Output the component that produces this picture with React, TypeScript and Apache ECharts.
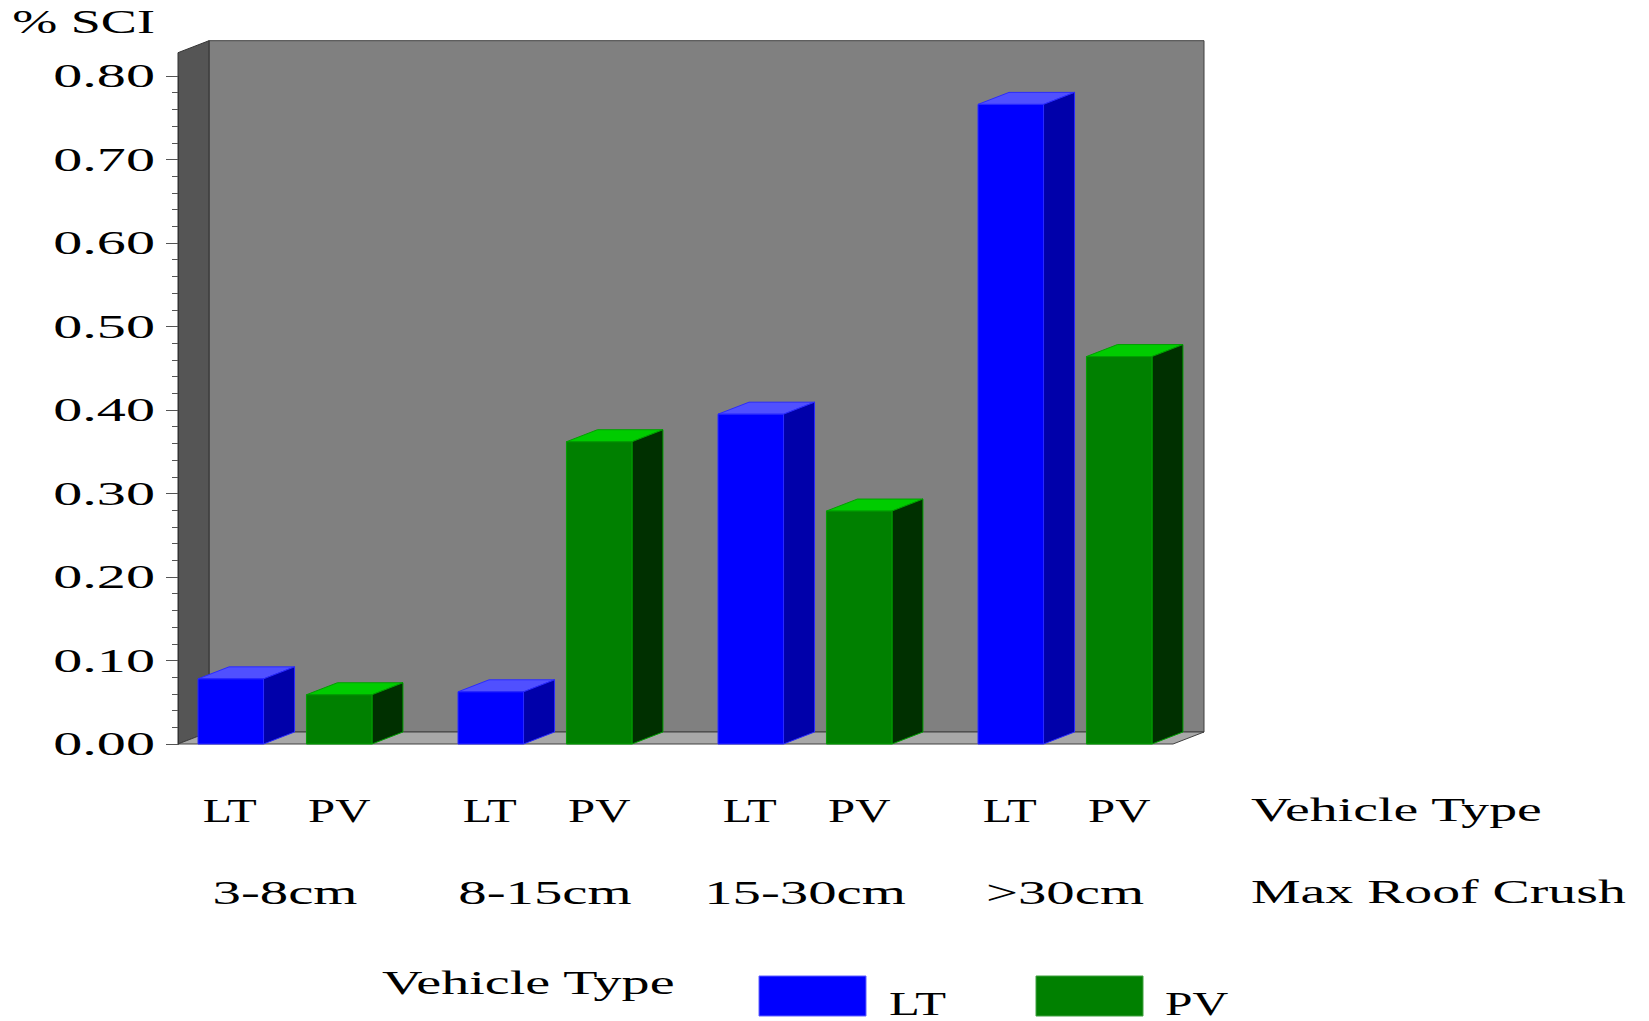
import React, { useEffect, useRef } from "react";
import * as echarts from "echarts";

// ---- data ----
const categories = ["3-8cm", "8-15cm", "15-30cm", ">30cm"];
const seriesNames = ["LT", "PV"];
const ltValues = [0.078, 0.0625, 0.395, 0.766];
const pvValues = [0.059, 0.362, 0.279, 0.464];
const yTickValues = [0, 0.1, 0.2, 0.3, 0.4, 0.5, 0.6, 0.7, 0.8];
const yTickLabels = ["0.00", "0.10", "0.20", "0.30", "0.40", "0.50", "0.60", "0.70", "0.80"];
const yAxisTitle = "% SCI";
const rowTitles = ["Vehicle Type", "Max Roof Crush"];
const legendTitle = "Vehicle Type";

// ---- styling ----
const FONT = '"Liberation Serif", "Times New Roman", serif';
const DX = 31;
const DY = -12;
const BAR_W = 0.252; // fraction of band
const OFFSETS = [-0.423, -0.006]; // bar front-left offset from band centre, fraction of band
const GRID = { left: 178, right: 431, top: 76, bottom: 277 };
const PLOT_RIGHT = 1173;
const WALL_TOP = 52.7;

const COLORS = [
  { front: "#0000ff", top: "#5050ff", side: "#0000aa", edge: "#2a2aff" },
  { front: "#008000", top: "#00cc00", side: "#003000", edge: "#00a000" },
];

function makeRender(idx: number) {
  return (params: any, api: any) => {
    const cat = api.value(0);
    const v = api.value(1);
    const base = api.coord([cat, 0]);
    const top = api.coord([cat, v]);
    const band = api.size([1, 0])[0];
    const x0 = base[0] + OFFSETS[idx] * band;
    const w = BAR_W * band;
    const x1 = x0 + w;
    const y0 = base[1];
    const y1 = top[1];
    const c = COLORS[idx];
    return {
      type: "group",
      children: [
        {
          type: "polygon",
          shape: { points: [[x0, y1], [x1, y1], [x1 + DX, y1 + DY], [x0 + DX, y1 + DY]] },
          style: { fill: c.top, stroke: c.edge, lineWidth: 1 },
        },
        {
          type: "polygon",
          shape: { points: [[x1, y0], [x1 + DX, y0 + DY], [x1 + DX, y1 + DY], [x1, y1]] },
          style: { fill: c.side, stroke: c.edge, lineWidth: 1 },
        },
        {
          type: "rect",
          shape: { x: x0, y: y1, width: w, height: y0 - y1 },
          style: { fill: c.front, stroke: c.edge, lineWidth: 1 },
        },
      ],
    };
  };
}

function txt(text: string, x: number, y: number, size: number, sx: number, align: string, z = 10) {
  return {
    type: "text",
    x,
    y,
    scaleX: sx,
    z,
    silent: true,
    style: {
      text,
      font: `${size}px ${FONT}`,
      fill: "#000",
      align,
      textAlign: align,
      verticalAlign: "middle",
      textVerticalAlign: "middle",
    },
  };
}

export default function App() {
  const ref = useRef<HTMLDivElement>(null);
  useEffect(() => {
    if (!ref.current) return;
    const chart = echarts.init(ref.current, undefined, { renderer: "svg" });
    const baseOption: any = {
      animation: false,
      backgroundColor: "#ffffff",
      grid: { ...GRID, containLabel: false },
      xAxis: {
        type: "category",
        data: categories,
        show: false,
      },
      yAxis: {
        type: "value",
        min: 0,
        max: 0.8,
        interval: 0.1,
        axisLine: { show: true, lineStyle: { color: "#333", width: 1 } },
        axisTick: { show: true, length: 12, lineStyle: { color: "#555" } },
        minorTick: { show: true, splitNumber: 5, length: 6, lineStyle: { color: "#555" } },
        splitLine: { show: false },
        axisLabel: { show: false },
      },
      series: [
        {
          name: seriesNames[0],
          type: "custom",
          z: 5,
          renderItem: makeRender(0),
          data: ltValues.map((v, i) => [i, v]),
        },
        {
          name: seriesNames[1],
          type: "custom",
          z: 5,
          renderItem: makeRender(1),
          data: pvValues.map((v, i) => [i, v]),
        },
      ],
    };
    chart.setOption(baseOption);

    const toPx = (c: number, v: number) => chart.convertToPixel({ gridIndex: 0 }, [c, v]) as number[];
    const p00 = toPx(0, 0);
    const p10 = toPx(1, 0);
    const band = p10[0] - p00[0];
    const y0 = p00[1];
    const left = GRID.left;

    const graphics: any[] = [];
    // walls
    graphics.push({
      type: "rect",
      z: 0,
      shape: { x: left + DX, y: WALL_TOP + DY, width: PLOT_RIGHT - left, height: y0 - WALL_TOP },
      style: { fill: "#808080", stroke: "#404040", lineWidth: 1 },
    });
    graphics.push({
      type: "polygon",
      z: 0,
      shape: { points: [[left, WALL_TOP], [left + DX, WALL_TOP + DY], [left + DX, y0 + DY], [left, y0]] },
      style: { fill: "#555555", stroke: "#333333", lineWidth: 1 },
    });
    graphics.push({
      type: "polygon",
      z: 0,
      shape: { points: [[left, y0], [left + DX, y0 + DY], [PLOT_RIGHT + DX, y0 + DY], [PLOT_RIGHT, y0]] },
      style: { fill: "#a8a8a8", stroke: "#404040", lineWidth: 1 },
    });

    // y axis labels + title
    yTickValues.forEach((v, i) => {
      const p = toPx(0, v);
      graphics.push(txt(yTickLabels[i], 155, p[1], 34, 1.71, "right"));
    });
    graphics.push(txt(yAxisTitle, 155, 22, 33, 1.64, "right"));

    // x labels rows
    categories.forEach((cat, i) => {
      const c = toPx(i, 0)[0];
      const ltC = c + (OFFSETS[0] + BAR_W / 2) * band;
      const pvC = c + (OFFSETS[1] + BAR_W / 2) * band;
      graphics.push(txt(seriesNames[0], ltC - 1, 811, 33, 1.45, "center"));
      graphics.push(txt(seriesNames[1], pvC, 811, 33, 1.48, "center"));
      graphics.push(txt(cat, (ltC + pvC) / 2, 893, 33, 1.72, "center"));
    });
    graphics.push(txt(rowTitles[0], 1251, 810, 33, 1.69, "left"));
    graphics.push(txt(rowTitles[1], 1251, 892, 33, 1.69, "left"));

    // legend
    graphics.push(txt(legendTitle, 382, 983, 33, 1.7, "left"));
    graphics.push({
      type: "rect",
      z: 10,
      shape: { x: 759, y: 976, width: 107, height: 40 },
      style: { fill: COLORS[0].front, stroke: "#6060ff", lineWidth: 1 },
    });
    graphics.push(txt(seriesNames[0], 889, 1004, 33, 1.53, "left"));
    graphics.push({
      type: "rect",
      z: 10,
      shape: { x: 1036, y: 976, width: 107, height: 40 },
      style: { fill: COLORS[1].front, stroke: "#40a040", lineWidth: 1 },
    });
    graphics.push(txt(seriesNames[1], 1165, 1004, 33, 1.5, "left"));

    chart.setOption({ graphic: graphics });

    return () => chart.dispose();
  }, []);

  return (
    <div
      ref={ref}
      style={{ position: "fixed", left: 0, top: 0, width: 1649, height: 1021, background: "#fff" }}
    />
  );
}
